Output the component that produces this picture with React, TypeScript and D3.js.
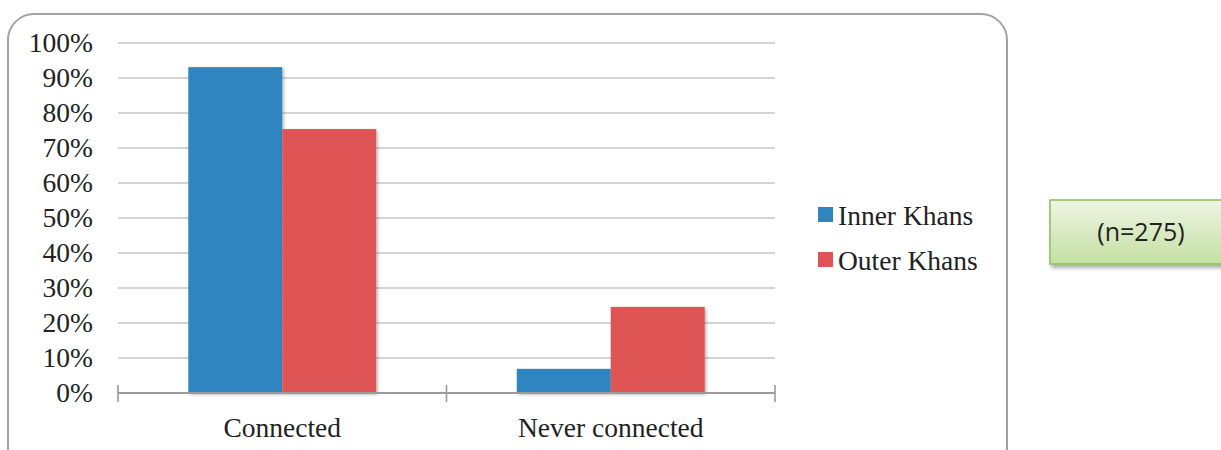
import React from "react";
import * as d3 from "d3";

const categories = ["Connected", "Never connected"];
const seriesNames = ["Inner Khans", "Outer Khans"];
const innerValues = [93.1, 6.9];
const outerValues = [75.4, 24.6];
const yTicks = [0, 10, 20, 30, 40, 50, 60, 70, 80, 90, 100];
const noteText = "(n=275)";

const colors = ["#2E85BF", "#DF5457"];
const serif = "'Liberation Serif', serif";
const fs = 27.5;

export default function App() {
  const W = 1221, H = 450;
  const x0 = 118, x1 = 775, yTop = 43, yBot = 393;
  const x = d3.scaleBand<string>().domain(categories).range([x0, x1]).paddingInner(0).paddingOuter(0);
  const y = d3.scaleLinear().domain([0, 100]).range([yBot, yTop]);
  const groupFrac = 0.572;
  const xs = d3.scaleBand<string>().domain(seriesNames).range([0, x.bandwidth() * groupFrac]).padding(0);
  const groupOff = (x.bandwidth() * (1 - groupFrac)) / 2;
  const series = [innerValues, outerValues];
  const tickXs = [x0, ...categories.map((c) => (x(c) as number) + x.bandwidth())];

  return (
    <svg width={W} height={H} style={{ position: "absolute", left: 0, top: 0, background: "#fff" }}>
      <defs>
        <filter id="sh" x="-10%" y="-10%" width="130%" height="130%">
          <feDropShadow dx="1.5" dy="1.5" stdDeviation="1.5" floodColor="#000" floodOpacity="0.3" />
        </filter>
        <filter id="sh2" x="-10%" y="-20%" width="130%" height="160%">
          <feDropShadow dx="2" dy="3" stdDeviation="2" floodColor="#000" floodOpacity="0.35" />
        </filter>
        <linearGradient id="gg" x1="0" y1="0" x2="0" y2="1">
          <stop offset="0" stopColor="#EEF5E4" />
          <stop offset="1" stopColor="#C4DFA2" />
        </linearGradient>
      </defs>
      <rect x={8} y={14} width={999} height={470} rx={26} ry={26} fill="#fff" stroke="#A3A3A3" strokeWidth={2} />
      {yTicks.map((t) => (
        <g key={t}>
          {t > 0 && <line x1={x0} x2={x1} y1={y(t)} y2={y(t)} stroke="#C6C6C6" strokeWidth={1.6} />}
          <text x={93} y={y(t)} dy="0.33em" textAnchor="end" fontFamily={serif} fontSize={fs} fill="#222">
            {t}%
          </text>
        </g>
      ))}
      {categories.map((c, ci) =>
        series.map((vals, si) => {
          const bx = (x(c) as number) + groupOff + (xs(seriesNames[si]) as number);
          return (
            <rect key={c + si} x={bx} y={y(vals[ci])} width={xs.bandwidth()} height={yBot - y(vals[ci])}
              fill={colors[si]} filter="url(#sh)" />
          );
        })
      )}
      <line x1={x0} x2={x1} y1={yBot} y2={yBot} stroke="#9A9A9A" strokeWidth={2.2} />
      {tickXs.map((tx, i) => (
        <line key={i} x1={tx} x2={tx} y1={yBot - 8} y2={yBot + 9} stroke="#9A9A9A" strokeWidth={1.6} />
      ))}
      {categories.map((c) => (
        <text key={c} x={(x(c) as number) + x.bandwidth() / 2} y={437} textAnchor="middle" fontFamily={serif} fontSize={fs} fill="#222">
          {c}
        </text>
      ))}
      {seriesNames.map((s, i) => (
        <g key={s}>
          <rect x={818} y={207} width={15} height={15} transform={`translate(0,${i * 45})`} fill={colors[i]} />
          <text x={838} y={215.5 + i * 45} dy="0.33em" fontFamily={serif} fontSize={fs} fill="#222">{s}</text>
        </g>
      ))}
      <rect x={1050} y={200} width={180} height={64} fill="url(#gg)" stroke="#8DBE5B" strokeWidth={1.5} filter="url(#sh2)" />
      <text x={1141} y={232} dy="0.35em" textAnchor="middle" fontFamily="'Open Sans', 'Noto Sans', sans-serif" fontSize={25} fill="#222">
        {noteText}
      </text>
    </svg>
  );
}
